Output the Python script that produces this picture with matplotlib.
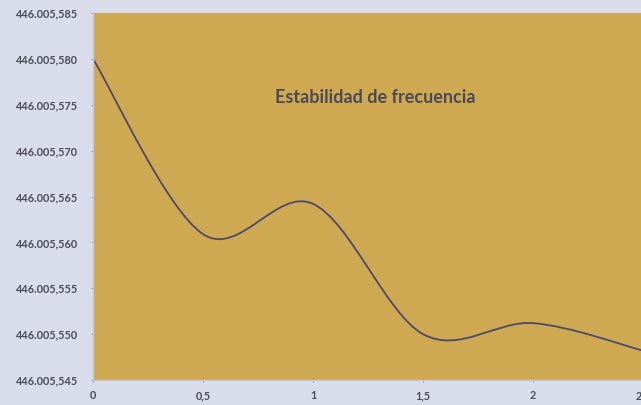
import matplotlib.pyplot as plt
from matplotlib.path import Path
from matplotlib.patches import PathPatch
from matplotlib.ticker import FuncFormatter

# datos (frecuencia en MHz)
tiempo = [0, 0.5, 1, 1.5, 2, 2.5]
frecuencia = [446.005580, 446.0055609, 446.0055642, 446.0055500, 446.0055512, 446.0055482]
x_ticks = [0, 0.5, 1, 1.5, 2, 2.5]
y_ticks = [446.005545 + 0.000005 * i for i in range(9)]
titulo = "Estabilidad de frecuencia"

fondo = "#d9dcea"
area = "#cfa952"
linea = "#4b4a6c"
texto = "#4a4a58"

plt.rcParams['font.family'] = ['Lato', 'DejaVu Sans']

fig = plt.figure(figsize=(6.41, 4.05), dpi=100, facecolor=fondo)
ax = fig.add_axes([93 / 641, 25 / 405, 550 / 641, 367 / 405])
ax.set_facecolor(area)

# linea suavizada tipo Excel: tramos Bezier que pasan por los puntos
verts = [(tiempo[0], frecuencia[0])]
codes = [Path.MOVETO]
n = len(tiempo)
for i in range(n - 1):
    i0 = max(i - 1, 0)
    i3 = min(i + 2, n - 1)
    c1 = (tiempo[i] + (tiempo[i + 1] - tiempo[i0]) / 6,
          frecuencia[i] + (frecuencia[i + 1] - frecuencia[i0]) / 6)
    c2 = (tiempo[i + 1] - (tiempo[i3] - tiempo[i]) / 6,
          frecuencia[i + 1] - (frecuencia[i3] - frecuencia[i]) / 6)
    verts += [c1, c2, (tiempo[i + 1], frecuencia[i + 1])]
    codes += [Path.CURVE4] * 3
ax.add_patch(PathPatch(Path(verts, codes), facecolor="none", edgecolor=linea, lw=1.3))

ax.set_xlim(0, 2.5)
ax.set_ylim(446.005545, 446.005585)
ax.set_xticks(x_ticks)
ax.set_yticks(y_ticks)


def fmt_y(v, pos):
    s = f"{v:.6f}"
    ent, dec = s.split(".")
    return f"{ent}.{dec[:3]},{dec[3:]}"


def fmt_x(v, pos):
    return f"{v:g}".replace(".", ",")


ax.yaxis.set_major_formatter(FuncFormatter(fmt_y))
ax.xaxis.set_major_formatter(FuncFormatter(fmt_x))
ax.tick_params(axis="both", colors="#9a9aa8", labelcolor=texto, labelsize=7.8,
               length=3, direction="inout", width=0.8)
ax.tick_params(axis="y", pad=9)
ax.tick_params(axis="x", pad=6)
for lab in ax.get_xticklabels() + ax.get_yticklabels():
    lab.set_fontweight("bold")

for s in ["top", "right"]:
    ax.spines[s].set_visible(False)
for s in ["left", "bottom"]:
    ax.spines[s].set_color("#c9c9d3")
    ax.spines[s].set_linewidth(1)

ax.text(0.514, 0.771, titulo, transform=ax.transAxes, ha="center", va="center",
        fontsize=13, fontweight="bold", color=texto)

plt.savefig("out.png", dpi=100, facecolor=fondo)
